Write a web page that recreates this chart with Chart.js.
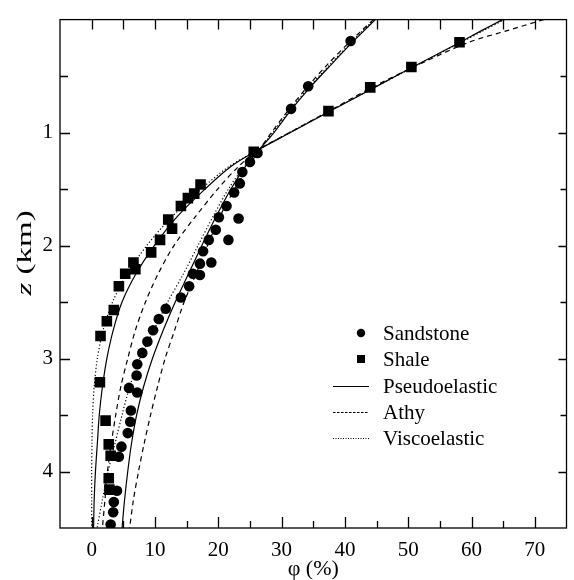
<!DOCTYPE html>
<html>
<head>
<meta charset="utf-8">
<script src="https://cdn.jsdelivr.net/npm/chart.js@4.4.0/dist/chart.umd.min.js"></script>
<style>
  html, body { margin: 0; padding: 0; background: #fff; }
</style>
</head>
<body>
<canvas id="myChart" width="574" height="580"></canvas>
<script>
// measured data (phi in %, z in km)
var sandPhi = [40.9, 34.2, 31.5, 26.2, 25.0, 23.8, 23.4, 22.5, 21.3, 23.2, 20.1, 19.6, 21.6, 18.5, 17.6, 18.9, 17.1, 16.0, 17.1, 15.4, 14.1, 11.7, 10.6, 9.7, 8.8, 8.0, 7.2, 7.1, 5.9, 7.2, 6.2, 6.1, 5.7, 4.7, 4.3, 4.0, 3.5, 3.4, 3.0];
var sandZ   = [0.19, 0.59, 0.79, 1.18, 1.26, 1.35, 1.45, 1.53, 1.65, 1.76, 1.75, 1.86, 1.95, 1.95, 2.05, 2.15, 2.16, 2.25, 2.26, 2.36, 2.46, 2.56, 2.65, 2.75, 2.85, 2.95, 3.05, 3.15, 3.26, 3.30, 3.46, 3.56, 3.66, 3.78, 3.87, 4.17, 4.27, 4.36, 4.47];

var shalePhi = [58.1, 50.5, 44.0, 37.4, 25.6, 17.2, 16.2, 15.2, 14.1, 12.1, 12.7, 10.8, 9.4, 6.6, 6.9, 5.3, 4.3, 3.5, 2.4, 1.4, 1.3, 2.2, 2.7, 3.0, 2.7, 2.8];
var shaleZ   = [0.20, 0.42, 0.60, 0.81, 1.17, 1.46, 1.54, 1.58, 1.65, 1.77, 1.85, 1.95, 2.06, 2.15, 2.21, 2.25, 2.36, 2.57, 2.67, 2.80, 3.21, 3.55, 3.76, 3.86, 4.06, 4.16];

// model curves, read along these depths
var modelZ      = [0, 0.1, 0.2, 0.4, 0.6, 0.8, 1.0, 1.15, 1.3, 1.5, 1.75, 2.0, 2.25, 2.5, 2.75, 3.0, 3.25, 3.5, 3.75, 4.0, 4.25, 4.5];
var sandPseudo  = [44.8, 43.0, 41.2, 37.8, 34.5, 31.5, 28.8, 26.5, 24.3, 22.0, 19.6, 17.4, 15.3, 13.2, 11.3, 9.6, 8.2, 7.1, 6.3, 5.7, 5.2, 4.8];
var sandAthy    = [44.5, 42.6, 40.7, 37.2, 34.0, 31.1, 28.4, 26.5, 24.8, 22.6, 20.2, 18.3, 16.5, 14.6, 13.1, 11.6, 10.4, 9.3, 8.3, 7.4, 6.6, 6.0];
var sandVisco   = [44.6, 42.8, 41.0, 37.6, 34.3, 31.3, 28.6, 26.5, 24.1, 21.6, 19.1, 16.8, 14.5, 12.0, 9.8, 7.6, 6.0, 4.8, 3.7, 2.6, 1.7, 0.85];
var shalePseudo = [64.9, 61.5, 58.2, 51.4, 44.7, 38.0, 31.4, 26.4, 22.0, 17.9, 13.4, 9.9, 7.0, 4.8, 3.4, 2.4, 1.7, 1.2, 0.9, 0.6, 0.4, 0.3];
var shaleAthy   = [71.4, 65.5, 59.6, 51.6, 44.3, 37.8, 31.3, 26.4, 23.2, 19.9, 16.3, 13.0, 10.5, 8.5, 6.9, 5.7, 4.6, 3.8, 3.1, 2.5, 2.1, 1.7];
var shaleVisco  = [65.2, 61.8, 58.4, 51.5, 44.7, 37.9, 31.2, 26.4, 21.7, 17.3, 12.6, 8.7, 5.6, 3.3, 1.8, 0.9, 0.4, 0.15, 0.05, 0, 0, 0];

var xTicks = [0, 10, 20, 30, 40, 50, 60, 70];
var yTicks = [1, 2, 3, 4];
var legendLabels = ['Sandstone', 'Shale', 'Pseudoelastic', 'Athy', 'Viscoelastic'];

var serif = '"Liberation Serif", "DejaVu Serif", serif';
var solid = [], dashed = [5, 4], dotted = [1.2, 2.2];

function pairs(xs, ys) {
    var out = [];
    for (var i = 0; i < xs.length; i++) out.push({ x: xs[i], y: ys[i] });
    return out;
}

function curve(phi, dash) {
    return {
        data: pairs(phi, modelZ),
        showLine: true,
        borderColor: '#000',
        borderWidth: 1.2,
        borderDash: dash,
        pointRadius: 0,
        tension: 0.3,
        fill: false
    };
}

// box, inward ticks, axis titles and legend
var frame = {
    id: 'frame',
    afterDraw: function (chart) {
        var c = chart.ctx, a = chart.chartArea;
        var xs = chart.scales.x, ys = chart.scales.y;
        c.save();
        c.strokeStyle = '#000';
        c.lineWidth = 1.3;
        c.setLineDash([]);
        c.strokeRect(a.left, a.top, a.right - a.left, a.bottom - a.top);
        c.beginPath();
        for (var v = 0; v <= 70; v += 5) {
            var px = Math.round(xs.getPixelForValue(v)) + 0.5;
            c.moveTo(px, a.bottom); c.lineTo(px, a.bottom - (v % 10 === 0 ? 11 : 7));
            c.moveTo(px, a.top); c.lineTo(px, a.top + 10);
        }
        for (var z = 0.5; z < 4.5; z += 0.5) {
            var py = Math.round(ys.getPixelForValue(z)) + 0.5;
            var len = (z % 1 === 0) ? 10 : 8;
            c.moveTo(a.left, py); c.lineTo(a.left + len, py);
            c.moveTo(a.right, py); c.lineTo(a.right - len + 2, py);
        }
        c.stroke();

        // axis titles
        c.fillStyle = '#000';
        c.textAlign = 'center';
        c.textBaseline = 'alphabetic';
        c.font = '22px ' + serif;
        c.fillText('\u03c6 (%)', (a.left + a.right) / 2, 575);

        c.save();
        c.translate(31, 253);
        c.rotate(-Math.PI / 2);
        c.scale(1.5, 1);
        c.textAlign = 'left';
        c.font = 'italic 22px ' + serif;
        var w1 = c.measureText('z').width;
        c.font = '22px ' + serif;
        var w2 = c.measureText(' (km)').width;
        var x0 = -(w1 + w2) / 2;
        c.font = 'italic 22px ' + serif;
        c.fillText('z', x0, 0);
        c.font = '22px ' + serif;
        c.fillText(' (km)', x0 + w1, 0);
        c.restore();

        // legend
        var lx = 333, tx = 383, rows = [333, 359, 386, 412, 438];
        c.font = '21px ' + serif;
        c.textAlign = 'left';
        c.textBaseline = 'middle';
        for (var i = 0; i < legendLabels.length; i++) {
            var y = rows[i];
            if (i === 0) {
                c.beginPath(); c.arc(361, y, 4.2, 0, Math.PI * 2); c.fill();
            } else if (i === 1) {
                c.fillRect(357, y - 4, 8, 8);
            } else {
                c.beginPath();
                c.lineWidth = 1;
                c.setLineDash(i === 2 ? solid : (i === 3 ? [2.5, 1.5] : [1, 1.5]));
                c.moveTo(lx, y + 0.5); c.lineTo(369, y + 0.5);
                c.stroke();
                c.setLineDash([]);
            }
            c.fillText(legendLabels[i], tx, y + 1);
        }
        c.restore();
    }
};

var ctx = document.getElementById('myChart').getContext('2d');
var mychart = new Chart(ctx, {
    type: 'scatter',
    data: {
        datasets: [
            curve(sandPseudo, solid),
            curve(sandAthy, dashed),
            curve(sandVisco, dotted),
            curve(shalePseudo, solid),
            curve(shaleAthy, dashed),
            curve(shaleVisco, dotted),
            {
                label: legendLabels[0],
                data: pairs(sandPhi, sandZ),
                pointStyle: 'circle',
                pointRadius: 5.3,
                backgroundColor: '#000',
                borderColor: '#000',
                borderWidth: 0
            },
            {
                label: legendLabels[1],
                data: pairs(shalePhi, shaleZ),
                pointStyle: 'rect',
                pointRadius: 7.5,
                backgroundColor: '#000',
                borderColor: '#000',
                borderWidth: 0
            }
        ]
    },
    options: {
        responsive: false,
        animation: false,
        devicePixelRatio: 1,
        layout: { padding: { top: 13, right: 1, left: 0, bottom: 0 } },
        plugins: {
            legend: { display: false },
            tooltip: { enabled: false }
        },
        scales: {
            x: {
                type: 'linear',
                position: 'bottom',
                min: -5,
                max: 75,
                grid: { display: false, drawTicks: false },
                border: { display: false },
                ticks: { font: { family: serif, size: 21 }, color: '#000', padding: 10 },
                afterBuildTicks: function (s) { s.ticks = xTicks.map(function (v) { return { value: v }; }); },
                afterFit: function (s) { s.height = 52; }
            },
            y: {
                type: 'linear',
                reverse: true,
                min: 0,
                max: 4.5,
                grid: { display: false, drawTicks: false },
                border: { display: false },
                ticks: { font: { family: serif, size: 21 }, color: '#000', padding: 7 },
                afterBuildTicks: function (s) { s.ticks = yTicks.map(function (v) { return { value: v }; }); },
                afterFit: function (s) { s.width = 60; }
            }
        }
    },
    plugins: [frame]
});
</script>
</body>
</html>
